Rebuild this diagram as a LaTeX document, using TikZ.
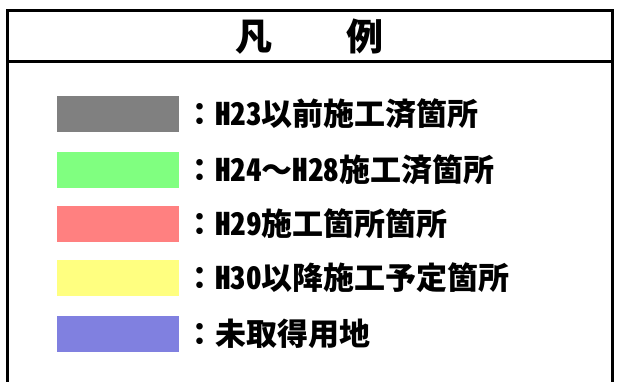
\documentclass[tikz,border=0pt]{standalone}
\usepackage{fontspec}
\usepackage{xcolor}
\usetikzlibrary{positioning}
\newfontfamily\jpfont{Noto Sans CJK JP}
\newfontfamily\jphalf{Noto Sans CJK JP}[RawFeature=+hwid]
\newcommand\halfw[1]{{\jphalf\bfseries #1}}
\definecolor{done old}{HTML}{808080}
\definecolor{done mid}{HTML}{80FF80}
\definecolor{current}{HTML}{FF8080}
\definecolor{planned}{HTML}{FFFF80}
\definecolor{unacquired}{HTML}{8080E0}
\tikzset{
    % Colour swatch style
    swatch/.style={
        rectangle,
        minimum width=122pt,
        minimum height=36pt,
        inner sep=0pt,
        draw=none,
        fill=#1
    },
    % Legend label style
    legend text/.style={
        anchor=west,
        inner sep=0pt,
        font=\jpfont\bfseries\fontsize{31}{31}\selectfont,
        text=black
    },
    % Title style
    legend title/.style={
        inner sep=0pt,
        font=\jpfont\bfseries\fontsize{37}{37}\selectfont,
        text=black
    },
    % Frame line style
    frame line/.style={
        line width=3pt,
        draw=black
    }
}
\begin{document}
\begin{tikzpicture}[x=1pt, y=-1pt]
        \useasboundingbox (0,0) rectangle (618,382);

        % Frame
        \coordinate (bl) at (7,382);
        \coordinate (tl) at (7,11);
        \coordinate (tr) at (612,11);
        \coordinate (br) at (612,382);
        \coordinate (dl) at (7,62);
        \coordinate (dr) at (612,62);
        \draw[frame line] (bl) -- (tl) -- (tr) -- (br);
        \draw[frame line] (dl) -- (dr);

        % Title
        \node[legend title] (title) at (309.5,37) {凡　　例};

        % Swatches
        \node[swatch=done old] (sw1) at (118,114) {};
        \node[swatch=done mid] (sw2) at (118,170) {};
        \node[swatch=current] (sw3) at (118,224) {};
        \node[swatch=planned] (sw4) at (118,278) {};
        \node[swatch=unacquired] (sw5) at (118,334) {};

        % Labels
        \node[legend text] (lb1) at (184,114) {：\halfw{H23}以前施工済箇所};
        \node[legend text] (lb2) at (184,170) {：\halfw{H24}～\halfw{H28}施工済箇所};
        \node[legend text] (lb3) at (184,224) {：\halfw{H29}施工箇所箇所};
        \node[legend text] (lb4) at (184,278) {：\halfw{H30}以降施工予定箇所};
        \node[legend text] (lb5) at (184,334) {：未取得用地};

    \end{tikzpicture}
\end{document}
